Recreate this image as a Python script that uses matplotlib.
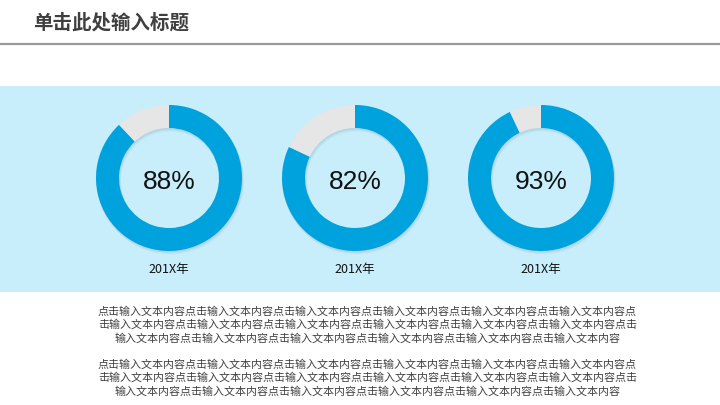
import matplotlib.pyplot as plt
import matplotlib.patches as mpatches

plt.rcParams['font.family'] = ['Noto Sans CJK SC', 'DejaVu Sans']

#chart data
values = [88, 82, 93]
year_labels = ['201X年', '201X年', '201X年']
title = '单击此处输入标题'
phrase = '点击输入文本内容'
n_repeat = 18
line_breaks = [49, 98]   # character positions where each paragraph wraps
n_paragraphs = 2

W, H = 720, 405
blue = '#00A2DD'
grey = '#E6E6E6'
band = '#C8EEFC'

fig = plt.figure(figsize=(W / 100, H / 100), dpi=100)
ax = fig.add_axes([0, 0, 1, 1])
ax.set_xlim(0, W)
ax.set_ylim(0, H)
ax.axis('off')


def py(y):
    #pixel row (top down) -> data y
    return H - y


#title and rule
ax.text(33, py(23), title, fontsize=14, fontweight='bold', color='#3F3F3F',
        va='center', ha='left')
ax.plot([0, W], [py(43.5), py(43.5)], color='#9A9A9A', lw=1.6,
        solid_capstyle='butt')

#light blue band
ax.add_patch(mpatches.Rectangle((0, py(292)), W, 206, color=band, lw=0))

#donuts
centers_x = [169, 355, 541]
cy = 178
r_out, r_in = 73, 50
for cx, v, lab in zip(centers_x, values, year_labels):
    #soft shadow
    for k, a in [(3, 0.05), (2, 0.07), (1, 0.09)]:
        ax.add_patch(mpatches.Wedge((cx + 0.5 * k, py(cy) - k), r_out + 0.5,
                                    0, 360, width=r_out - r_in + 1,
                                    color='#5A7A88', alpha=a, lw=0))
    ax.pie([v, 100 - v], colors=[blue, grey], startangle=90,
           counterclock=False, radius=r_out, center=(cx, py(cy)),
           wedgeprops=dict(width=r_out - r_in, linewidth=0), frame=True)
    ax.text(cx, py(cy + 4), f'{v}%', fontsize=19, family='Liberation Sans',
            ha='center', va='center', color='#111111')
    ax.text(cx, py(269), lab, fontsize=9, ha='center', va='center',
            color='#111111')

ax.set_xlim(0, W)
ax.set_ylim(0, H)
ax.axis('off')

#body text paragraphs
full = phrase * n_repeat
cuts = [0] + line_breaks + [len(full)]
lines = [full[cuts[i]:cuts[i + 1]] for i in range(len(cuts) - 1)]
line_y0 = [311.5, 364.5]
for p in range(n_paragraphs):
    for i, ln in enumerate(lines):
        ax.text(367.5, py(line_y0[p] + i * 13.5), ln, fontsize=7.95,
                ha='center', va='center', color='#404040')

fig.savefig('out.png', dpi=100, facecolor='white')
